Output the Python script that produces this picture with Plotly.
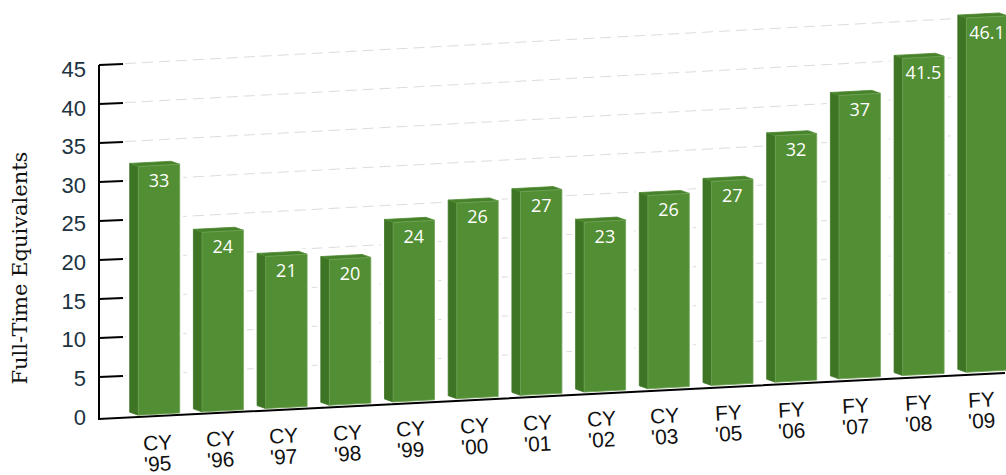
import plotly.graph_objects as go

# ---- data ----
periods = ["CY", "CY", "CY", "CY", "CY", "CY", "CY", "CY", "CY", "FY", "FY", "FY", "FY", "FY"]
years = ["'95", "'96", "'97", "'98", "'99", "'00", "'01", "'02", "'03", "'05", "'06", "'07", "'08", "'09"]
fte = [33, 24.4, 21, 20.2, 24.4, 26.4, 27.4, 23.2, 26.1, 27.45, 32.7, 37.3, 41.5, 46.1]
fte_labels = ["33", "24", "21", "20", "24", "26", "27", "23", "26", "27", "32", "37", "41.5", "46.1"]
tick_values = [0, 5, 10, 15, 20, 25, 30, 35, 40, 45]
grid_values = [5, 10, 15, 20, 25, 30, 35, 40, 45]

W, H = 1006, 475
# category axis: px = X0 + DX * x
X0, DX = 159.0, 63.7
# bar axis (y2): py = 431 - SB * y
YB0, SB = 431.0, 8.05
# tick axis (y): py = 416 - ST * y
YT0, ST = 416.0, 7.8
# tick label axis (y3)
YL0, SL = 417.0, 7.73

HALF = 0.325            # half front width, categories
DEPTH_X = 0.135         # depth offset, categories
DEPTH_Y = 3.0 / SB      # depth offset, bar-axis units
TILT_B = 3.3 / SB       # floor rise per category on bar axis
FLOOR = 2.1             # value at which the floor meets the bars
TILT_G = 3.45 / ST      # grid rise per category on tick axis
AXIS_X = (99 - X0) / DX
TICK_END = (123 - X0) / DX
GRID_END = (1006 - X0) / DX
LABEL_DROP = 17.0 / SB


def by(x, v):
    return v + TILT_B * x


def faces(i, v):
    l, r = i - HALF, i + HALF
    fl_t, fr_t = (l, by(l, v)), (r, by(r, v))
    fl_b, fr_b = (l, by(l, FLOOR)), (r, by(r, FLOOR))
    d = lambda p: (p[0] - DEPTH_X, p[1] + DEPTH_Y)
    front = [fl_b, fr_b, fr_t, fl_t, fl_b]
    side = [d(fl_b), fl_b, fl_t, d(fl_t), d(fl_b)]
    top = [fl_t, fr_t, d(fr_t), d(fl_t), fl_t]
    outline = [d(fl_b), d(fl_t), d(fr_t), fr_t, fr_b]
    return front, side, top, outline


def collect(idx):
    xs, ys = [], []
    for i, v in enumerate(fte):
        poly = faces(i, v)[idx]
        xs += [p[0] for p in poly] + [None]
        ys += [p[1] for p in poly] + [None]
    return xs, ys


fig = go.Figure()

# gridlines (base axis, below the overlaid bars)
gx, gy = [], []
for v in grid_values:
    gx += [TICK_END + 0.03, GRID_END, None]
    gy += [v + TILT_G * (TICK_END + 0.03 - AXIS_X), v + TILT_G * (GRID_END - AXIS_X), None]
fig.add_trace(go.Scatter(x=gx, y=gy, yaxis="y", mode="lines", hoverinfo="skip",
                         line=dict(color="#dcdcdc", width=1, dash="11px,6px")))

# axis lines and ticks
tx, ty = [], []
for v in grid_values:
    tx += [AXIS_X, TICK_END, None]
    ty += [v, v + TILT_G * (TICK_END - AXIS_X) * 0.85, None]
fig.add_trace(go.Scatter(x=tx, y=ty, yaxis="y", mode="lines", hoverinfo="skip",
                         line=dict(color="#000000", width=2)))
base_v = (YT0 - 419) / ST
fig.add_trace(go.Scatter(x=[AXIS_X, AXIS_X, (1005 - X0) / DX],
                         y=[45, base_v, base_v + (46 / ST)],
                         yaxis="y", mode="lines", hoverinfo="skip",
                         line=dict(color="#000000", width=2)))

# white halo round the bars (open at the foot, so the floor line stays whole)
hx, hy = collect(3)
fig.add_trace(go.Scatter(x=hx, y=hy, yaxis="y2", mode="lines", hoverinfo="skip",
                         line=dict(color="white", width=7)))

# faces
for idx, fill, edge in [(1, "#3d7524", "#3d7524"), (2, "#47822b", "#4d8a31"), (0, "#528e33", "#6fa356")]:
    xs, ys = collect(idx)
    fig.add_trace(go.Scatter(x=xs, y=ys, yaxis="y2", mode="lines", fill="toself", fillcolor=fill,
                             hoverinfo="skip", line=dict(color=edge, width=0.8)))

# data labels
fig.add_trace(go.Scatter(x=list(range(len(fte))), y=[by(i, v) - LABEL_DROP for i, v in enumerate(fte)],
                         yaxis="y2", mode="text", text=fte_labels, textposition="middle center",
                         textfont=dict(family="Open Sans", size=18, color="white"), hoverinfo="skip"))

# trace that keeps the tick label axis alive
fig.add_trace(go.Scatter(x=[0], y=[0], yaxis="y3", mode="markers", opacity=0, hoverinfo="skip"))

# category labels
ann = []
for i, (p, yr) in enumerate(zip(periods, years)):
    x = (157 + 63.46 * i - X0) / DX
    for txt, py in ((p, 442 - 3.3 * i), (yr, 463 - 3.3 * i)):
        ann.append(dict(text=txt, x=x, y=(YT0 - py) / ST, xref="x", yref="y", showarrow=False,
                        textangle=-3, xanchor="center", yanchor="middle",
                        font=dict(family="Liberation Sans", size=21, color="#111111")))

ann.append(dict(text="Full-Time Equivalents", x=19.5 / W, y=1 - 268 / H, xref="paper", yref="paper",
                showarrow=False, textangle=-90, xanchor="center", yanchor="middle",
                font=dict(family="DejaVu Serif", size=21, color="#111111")))

hidden = dict(visible=False, fixedrange=True)
fig.update_layout(
    width=W, height=H, autosize=False, showlegend=False,
    margin=dict(l=0, r=0, t=0, b=0),
    paper_bgcolor="white", plot_bgcolor="white",
    xaxis=dict(range=[-X0 / DX, (W - X0) / DX], **hidden),
    yaxis=dict(range=[(YT0 - H) / ST, YT0 / ST], **hidden),
    yaxis2=dict(range=[(YB0 - H) / SB, YB0 / SB], overlaying="y", **hidden),
    yaxis3=dict(range=[(YL0 - H) / SL, YL0 / SL], overlaying="y", anchor="free", position=86 / W,
                side="left", tickmode="array", tickvals=tick_values, ticklen=0,
                showgrid=False, zeroline=False, showline=False, fixedrange=True,
                tickfont=dict(family="Liberation Sans", size=22, color="#1d3340")),
    annotations=ann,
)

fig.write_html("out.html", config=dict(displayModeBar=False),
               post_script="document.body.style.margin='0';")
